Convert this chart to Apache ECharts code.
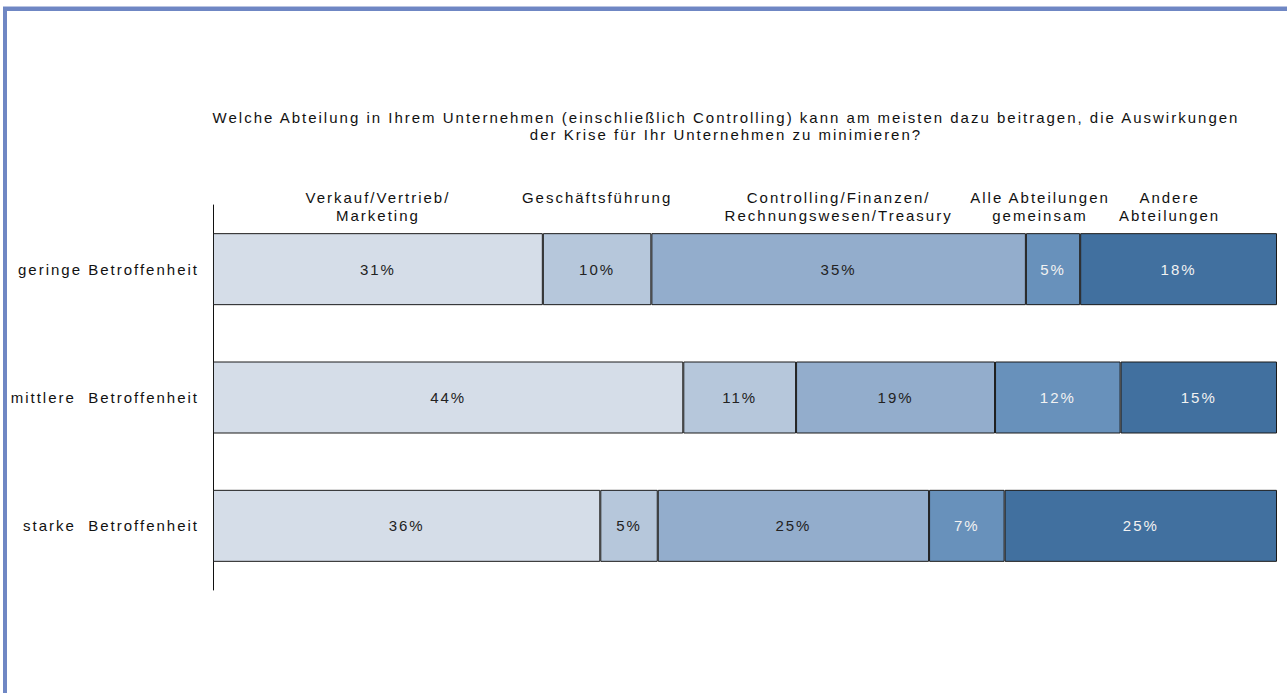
<!DOCTYPE html>
<html>
<head>
<meta charset="utf-8">
<script src="https://cdn.jsdelivr.net/npm/echarts@6/dist/echarts.min.js"></script>
<style>
  html, body { margin: 0; padding: 0; background: #fff; }
  #chart { width: 1287px; height: 693px; }
  /* die Vorlage hat sehr weit laufende Schrift */
  #chart text { letter-spacing: 2px; }
</style>
</head>
<body>
<div id="chart"></div>
<script>
// Zeilen (Betroffenheit)
const categories = ['geringe Betroffenheit', 'mittlere  Betroffenheit', 'starke  Betroffenheit']

// Abteilungen
const departments = [
  'Verkauf/Vertrieb/\nMarketing',
  'Geschäftsführung',
  'Controlling/Finanzen/\nRechnungswesen/Treasury',
  'Alle Abteilungen\ngemeinsam',
  'Andere\nAbteilungen'
]

// Balkenanteile (je Zeile = 100)
const verkauf = [31.0, 44.2, 36.4]
const geschaeftsfuehrung = [10.2, 10.6, 5.4]
const controlling = [35.2, 18.7, 25.5]
const alle = [5.1, 11.8, 7.1]
const andere = [18.5, 14.7, 25.6]

// gedruckte Prozentwerte
const verkaufLabel = [31, 44, 36]
const geschaeftsfuehrungLabel = [10, 11, 5]
const controllingLabel = [35, 19, 25]
const alleLabel = [5, 12, 7]
const andereLabel = [18, 15, 25]

const values = [verkauf, geschaeftsfuehrung, controlling, alle, andere]
const printed = [verkaufLabel, geschaeftsfuehrungLabel, controllingLabel, alleLabel, andereLabel]
const colors = ['#d5dde8', '#b6c7db', '#93adcc', '#6891bb', '#41709f']
const labelColors = ['#222', '#222', '#222', '#f2f2f2', '#f2f2f2']

const FONT = 'Liberation Sans'
const SIZE = 15
const chart = echarts.init(document.getElementById('chart'), null, { renderer: 'svg' })

chart.setOption({
  animation: false,
  backgroundColor: '#fff',
  textStyle: { fontFamily: FONT },
  title: {
    text: 'Welche Abteilung in Ihrem Unternehmen (einschließlich Controlling) kann am meisten dazu beitragen, die Auswirkungen\nder Krise für Ihr Unternehmen zu minimieren?',
    left: 721,
    top: 104,
    textAlign: 'center',
    textStyle: { fontFamily: FONT, fontSize: SIZE, fontWeight: 'normal', color: '#111', lineHeight: 17, align: 'center' }
  },
  grid: { left: 213, right: 10, top: 205, bottom: 103, containLabel: false },
  xAxis: { type: 'value', min: 0, max: 100, show: false },
  yAxis: {
    type: 'category',
    inverse: true,
    data: categories,
    axisLine: { show: true, lineStyle: { color: '#111', width: 1 } },
    axisTick: { show: false },
    axisLabel: { margin: 14, fontFamily: FONT, fontSize: SIZE, color: '#111' }
  },
  series: departments.map((name, i) => ({
    name: name,
    type: 'bar',
    stack: 'total',
    barWidth: 72,
    data: values[i],
    itemStyle: { color: colors[i], borderColor: '#1a1a1a', borderWidth: 1 },
    label: {
      show: true,
      position: 'inside',
      fontFamily: FONT,
      fontSize: SIZE,
      color: labelColors[i],
      formatter: p => printed[i][p.dataIndex] + '%'
    }
  }))
})

// Abteilungsnamen über dem ersten Balken
const nameShift = [0, 0, 0, -13, -9]
const graphics = [
  { type: 'rect', shape: { x: 3, y: 6, width: 1284, height: 1 }, style: { fill: '#b9c4e2' } },
  { type: 'rect', shape: { x: 3, y: 7, width: 1284, height: 4 }, style: { fill: '#6f87c4' } },
  { type: 'rect', shape: { x: 3, y: 7, width: 4, height: 686 }, style: { fill: '#6f87c4' } }
]
const rowCenter = chart.convertToPixel({ yAxisIndex: 0 }, categories[0])
let acc = 0
departments.forEach((name, i) => {
  const mid = acc + values[i][0] / 2
  acc += values[i][0]
  const x = chart.convertToPixel({ xAxisIndex: 0 }, mid) + nameShift[i]
  graphics.push({
    type: 'text',
    x: x,
    y: rowCenter - 36 - 45,
    style: {
      text: name,
      fontFamily: FONT,
      fontSize: SIZE,
      lineHeight: 18,
      fill: '#111',
      align: 'center',
      verticalAlign: 'top'
    }
  })
})
chart.setOption({ graphic: graphics })
</script>
</body>
</html>
